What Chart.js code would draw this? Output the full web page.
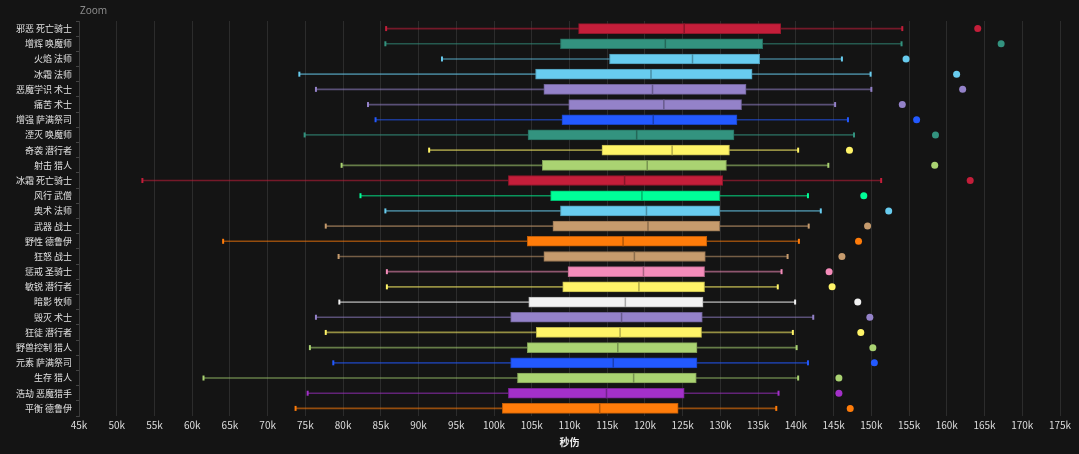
<!DOCTYPE html>
<html>
<head>
<meta charset="utf-8">
<script src="https://cdn.jsdelivr.net/npm/chart.js@4.4.1/dist/chart.umd.min.js"></script>
<style>
  html, body { margin: 0; padding: 0; background: #141414; }
  #wrap { position: relative; width: 1079px; height: 454px; }
  #zoom { position: absolute; left: 80px; top: 3px; font: 10px "Noto Sans", sans-serif; color: #8a8a8a; }
</style>
</head>
<body>
<div id="wrap">
  <div id="zoom">Zoom</div>
  <canvas id="c"></canvas>
</div>
<script>
// spec names, top to bottom
const labels = [
  '邪恶 死亡骑士', '增辉 唤魔师', '火焰 法师', '冰霜 法师', '恶魔学识 术士', '痛苦 术士',
  '增强 萨满祭司', '湮灭 唤魔师', '奇袭 潜行者', '射击 猎人', '冰霜 死亡骑士', '风行 武僧',
  '奥术 法师', '武器 战士', '野性 德鲁伊', '狂怒 战士', '惩戒 圣骑士', '敏锐 潜行者',
  '暗影 牧师', '毁灭 术士', '狂徒 潜行者', '野兽控制 猎人', '元素 萨满祭司', '生存 猎人',
  '浩劫 恶魔猎手', '平衡 德鲁伊'
];

// dps stats
const mins = [85700, 85600, 93100, 74200, 76400, 83300, 84300, 74900, 91400, 79800, 53400, 82300,
  85600, 77700, 64100, 79400, 85800, 85800, 79500, 76400, 77700, 75600, 78700, 61500, 75300, 73700];
const q1s = [111200, 108800, 115300, 105500, 106600, 109900, 109000, 104500, 114300, 106400, 101900, 107500,
  108800, 107800, 104400, 106600, 109800, 109100, 104600, 102200, 105600, 104400, 102200, 103100, 101900, 101100];
const medians = [125200, 122700, 126300, 120800, 121000, 122500, 121100, 118900, 123600, 120300, 117300, 119600,
  120200, 120400, 117100, 118600, 119800, 119200, 117400, 116900, 116700, 116400, 115800, 118500, 114900, 114000];
const q3s = [138000, 135600, 135200, 134200, 133400, 132800, 132200, 131800, 131200, 130800, 130300, 129900,
  129900, 129900, 128200, 128000, 127900, 127900, 127700, 127600, 127500, 126900, 126900, 126800, 125200, 124400];
const maxs = [154100, 154000, 146100, 149900, 150000, 145200, 146900, 147700, 140300, 144300, 151300, 141600,
  143300, 141700, 140400, 138900, 138100, 137600, 139900, 142300, 139600, 140100, 141600, 140300, 137700, 137400];
const outliers = [164100, 167200, 154600, 161300, 162100, 154100, 156000, 158500, 147100, 158400, 163100, 149000,
  152300, 149500, 148300, 146100, 144400, 144800, 148200, 149800, 148600, 150200, 150400, 145700, 145700, 147200];

const classColors = [
  '#C41E3A', '#33937F', '#68CCEF', '#68CCEF', '#9482C9', '#9482C9',
  '#2359FF', '#33937F', '#FFF468', '#AAD372', '#C41E3A', '#00FF98',
  '#68CCEF', '#C69B6D', '#FF7C0A', '#C69B6D', '#F48CBA', '#FFF468',
  '#F2F2F2', '#9482C9', '#FFF468', '#AAD372', '#2359FF', '#AAD372',
  '#A330C9', '#FF7C0A'
];

function rgba(hex, a) {
  const n = parseInt(hex.slice(1), 16);
  return 'rgba(' + (n >> 16) + ',' + ((n >> 8) & 255) + ',' + (n & 255) + ',' + a + ')';
}
function darker(hex, f) {
  const n = parseInt(hex.slice(1), 16);
  const r = Math.round((n >> 16) * f), g = Math.round(((n >> 8) & 255) * f), b = Math.round((n & 255) * f);
  return 'rgb(' + r + ',' + g + ',' + b + ')';
}

const font = '"Noto Sans CJK SC", "Noto Sans", sans-serif';

function capSet(values) {
  return {
    type: 'line', indexAxis: 'y', data: values, showLine: false,
    pointStyle: 'line', rotation: 90, pointRadius: 2.5, pointBorderWidth: 2,
    pointBorderColor: classColors, pointBackgroundColor: classColors, order: 1
  };
}

new Chart(document.getElementById('c'), {
  type: 'bar',
  data: {
    labels: labels,
    datasets: [
      {
        // whisker line
        type: 'bar', indexAxis: 'y', grouped: false, order: 4,
        data: labels.map((_, i) => [mins[i], maxs[i]]),
        backgroundColor: classColors.map(c => rgba(c, 0.55)),
        borderWidth: 0, barThickness: 1
      },
      {
        // box
        type: 'bar', indexAxis: 'y', grouped: false, order: 3,
        data: labels.map((_, i) => [q1s[i], q3s[i]]),
        backgroundColor: classColors,
        borderColor: classColors.map(c => darker(c, 0.75)),
        borderWidth: 1, borderSkipped: false, barThickness: 10
      },
      {
        // median
        type: 'line', indexAxis: 'y', data: medians, showLine: false, order: 2,
        pointStyle: 'line', rotation: 90, pointRadius: 5, pointBorderWidth: 1.5,
        pointBorderColor: classColors.map(c => darker(c, 0.7))
      },
      capSet(mins),
      capSet(maxs),
      {
        type: 'line', indexAxis: 'y', data: outliers, showLine: false, order: 1,
        pointStyle: 'circle', pointRadius: 3.5, pointBorderWidth: 0,
        pointBackgroundColor: classColors
      }
    ]
  },
  options: {
    indexAxis: 'y',
    responsive: true,
    maintainAspectRatio: false,
    animation: false,
    events: [],
    layout: { padding: { top: 21, right: 19, left: 0, bottom: 0 } },
    plugins: { legend: { display: false }, tooltip: { enabled: false } },
    scales: {
      x: {
        type: 'linear', min: 45000, max: 175000,
        ticks: {
          stepSize: 5000, color: '#dcdcdc', padding: 3,
          font: { family: font, size: 10 },
          callback: v => (v / 1000) + 'k'
        },
        grid: { color: '#2c2c2c', drawTicks: false },
        border: { display: false },
        title: {
          display: true, text: '秒伤', color: '#eeeeee',
          font: { family: font, size: 10, weight: 'bold' },
          padding: { top: 2, bottom: 6 }
        },
        afterFit: s => { s.height = 38; }
      },
      y: {
        type: 'category',
        ticks: { color: '#e0e0e0', padding: 4, font: { family: font, size: 9 } },
        grid: { drawOnChartArea: false, color: '#444', tickLength: 3 },
        border: { color: '#3a3a3a' },
        afterFit: s => { s.width = 79; }
      }
    }
  }
});
</script>
</body>
</html>
